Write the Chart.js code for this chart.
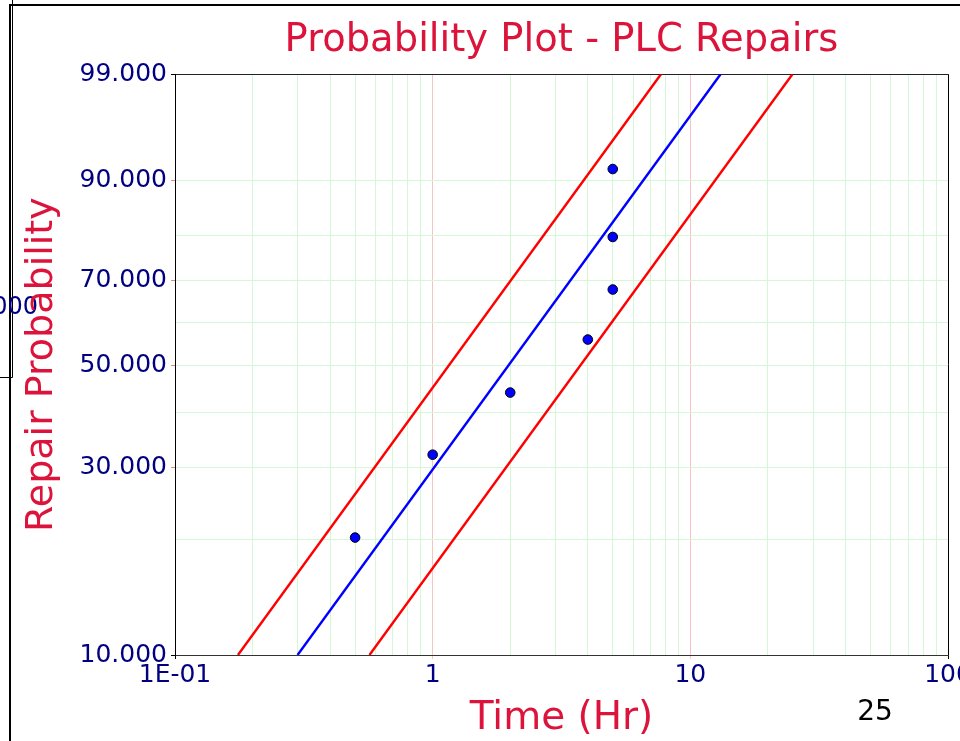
<!DOCTYPE html>
<html>
<head>
<meta charset="utf-8">
<script src="https://cdn.jsdelivr.net/npm/chart.js@4.4.0/dist/chart.umd.min.js"></script>
<style>
  html, body { margin: 0; padding: 0; background: #fff; }
  #wrap { width: 960px; height: 741px; }
</style>
</head>
<body>
<div id="wrap"><canvas id="chart" width="960" height="741"></canvas></div>
<script>
// repair times (Hr) and their plotted probabilities (%)
const repairTimes = [0.5, 1, 2, 4, 5, 5, 5];
const repairProbs = [20.24, 32.14, 44.05, 55.95, 67.86, 79.76, 91.67];

// fitted line and bounds, read at the 10% and 99% edges
const lineProbs = [10, 99];
const fitTimes = [0.299, 13.1];
const upperTimes = [0.1755, 7.69];
const lowerTimes = [0.5685, 24.9];

// axis ticks
const yGridProbs = [10, 20, 30, 40, 50, 60, 70, 80, 90, 99];
const yLabelProbs = [10, 30, 50, 70, 90, 99];
const xGridTimes = [0.1, 0.2, 0.3, 0.4, 0.5, 0.6, 0.7, 0.8, 0.9,
  1, 2, 3, 4, 5, 6, 7, 8, 9, 10, 20, 30, 40, 50, 60, 70, 80, 90, 100];
const xLabelTimes = [0.1, 1, 10, 100];
const xTickLabels = ['1E-01', '1', '10', '100'];

const CRIMSON = '#DC143C';
const NAVY = '#000080';
const GREEN = '#d4f7d4';
const PINK = '#f7c4c4';

// weibull probability paper: y = ln(-ln(1 - F))
const weib = p => Math.log(-Math.log(1 - p / 100));

const toPoints = (times, probs) => times.map((t, i) => ({ x: t, y: weib(probs[i]) }));

const sameVal = (a, b) => Math.abs(a - b) < 1e-9 * Math.max(1, Math.abs(b));
const xLabelIndex = v => xLabelTimes.findIndex(t => sameVal(t, v));

Chart.defaults.font.family = '"DejaVu Sans", Verdana, sans-serif';

const extras = {
  id: 'extras',
  beforeDraw(chart) {
    const ctx = chart.ctx;
    ctx.save();
    // window frame behind the plot
    ctx.strokeStyle = '#000';
    ctx.lineWidth = 2;
    ctx.beginPath();
    ctx.moveTo(10, 741); ctx.lineTo(10, 5); ctx.lineTo(960, 5);
    ctx.stroke();
    ctx.lineWidth = 1;
    ctx.beginPath();
    ctx.moveTo(12.5, 0); ctx.lineTo(12.5, 377.5); ctx.lineTo(0, 377.5);
    ctx.stroke();
    ctx.fillStyle = NAVY;
    ctx.font = '24px "DejaVu Sans"';
    ctx.textAlign = 'right';
    ctx.textBaseline = 'middle';
    ctx.fillText('0.000', 38, 308);
    ctx.fillStyle = '#000';
    ctx.font = '28px "DejaVu Sans"';
    ctx.textAlign = 'center';
    ctx.fillText('25', 875, 713);
    ctx.restore();
  }
};

new Chart(document.getElementById('chart'), {
  type: 'scatter',
  data: {
    datasets: [
      {
        label: 'Data',
        data: toPoints(repairTimes, repairProbs),
        pointRadius: 4.8,
        pointBackgroundColor: '#0000FF',
        pointBorderColor: '#000',
        pointBorderWidth: 1
      },
      {
        label: 'Fit',
        data: toPoints(fitTimes, lineProbs),
        showLine: true,
        borderColor: '#0000FF',
        borderWidth: 2.4,
        pointRadius: 0
      },
      {
        label: 'Upper',
        data: toPoints(upperTimes, lineProbs),
        showLine: true,
        borderColor: '#FF0000',
        borderWidth: 2.4,
        pointRadius: 0
      },
      {
        label: 'Lower',
        data: toPoints(lowerTimes, lineProbs),
        showLine: true,
        borderColor: '#FF0000',
        borderWidth: 2.4,
        pointRadius: 0
      }
    ]
  },
  options: {
    responsive: false,
    devicePixelRatio: 1,
    animation: false,
    layout: { padding: { left: 0, right: 12, top: 0, bottom: 0 } },
    plugins: {
      legend: { display: false },
      tooltip: { enabled: false },
      title: {
        display: true,
        text: 'Probability Plot - PLC Repairs',
        color: CRIMSON,
        fullSize: false,
        font: { size: 38.5, weight: 'normal', lineHeight: 1.2 },
        padding: { top: 18, bottom: 10 }
      }
    },
    scales: {
      x: {
        type: 'logarithmic',
        min: 0.1,
        max: 100,
        afterBuildTicks: s => { s.ticks = xGridTimes.map(v => ({ value: v })); },
        afterFit: s => { s.height = 86; s.paddingLeft = 0; s.paddingRight = 0; },
        ticks: {
          autoSkip: false,
          maxRotation: 0,
          color: NAVY,
          padding: 1,
          font: { size: 25 },
          callback: v => {
            const i = xLabelIndex(v);
            return i >= 0 ? xTickLabels[i] : '';
          }
        },
        grid: {
          color: c => {
            const v = c.tick ? c.tick.value : 0;
            if (sameVal(v, 0.1) || sameVal(v, 100)) return '#000';
            if (sameVal(v, 1) || sameVal(v, 10)) return PINK;
            return GREEN;
          },
          tickColor: c => {
            const v = c.tick ? c.tick.value : 0;
            if (sameVal(v, 0.1) || sameVal(v, 100)) return '#000';
            if (sameVal(v, 1) || sameVal(v, 10)) return PINK;
            return 'rgba(0,0,0,0)';
          },
          tickLength: 4,
          lineWidth: 1
        },
        border: { color: '#333', width: 1 },
        title: {
          display: true,
          text: 'Time (Hr)',
          color: CRIMSON,
          font: { size: 39, weight: 'normal', lineHeight: 1 },
          padding: { top: 0, bottom: 3 }
        }
      },
      y: {
        type: 'linear',
        min: weib(10),
        max: weib(99),
        afterBuildTicks: s => { s.ticks = yGridProbs.map(p => ({ value: weib(p) })); },
        afterFit: s => { s.width = 175; },
        ticks: {
          autoSkip: false,
          color: NAVY,
          padding: 4,
          font: { size: 25 },
          callback: (v, i) => {
            const p = yGridProbs[i];
            return yLabelProbs.includes(p) ? p.toFixed(3) : '';
          }
        },
        grid: {
          color: c => {
            const p = yGridProbs[c.index];
            if (p === 10 || p === 99) return '#222';
            return GREEN;
          },
          tickColor: c => {
            const p = yGridProbs[c.index];
            if (p === 10 || p === 99) return '#000';
            if (yLabelProbs.includes(p)) return '#f08080';
            return 'rgba(0,0,0,0)';
          },
          tickLength: 4,
          lineWidth: 1
        },
        border: { color: '#000', width: 1 },
        title: {
          display: true,
          text: 'Repair Probability',
          color: CRIMSON,
          font: { size: 38, weight: 'normal', lineHeight: 1.2 },
          padding: { top: 19, bottom: 0 }
        }
      }
    }
  },
  plugins: [extras]
});
</script>
</body>
</html>
